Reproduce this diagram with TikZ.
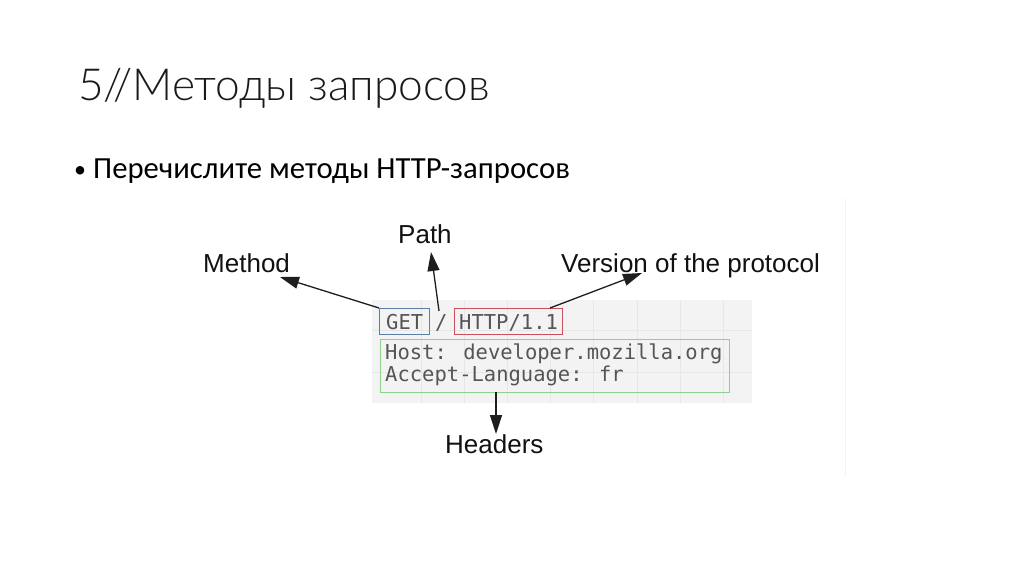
\documentclass[tikz,border=0pt]{standalone}
\usepackage{fontspec}
\setmainfont{Carlito}
\newfontfamily\titlefont{Lato}[UprightFont=* Light]
\newfontfamily\lblfont{Liberation Sans}
\newfontfamily\codefont{DejaVu Sans Mono}
\usetikzlibrary{arrows.meta}
\definecolor{titlecol}{HTML}{1A1A1A}
\definecolor{labelcol}{HTML}{111111}
\definecolor{codecol}{HTML}{555555}
\definecolor{panelbg}{HTML}{F3F3F3}
\definecolor{gridcol}{HTML}{E7E7E7}
\definecolor{edgecol}{HTML}{F3F3F3}
\definecolor{boxblue}{HTML}{5B7FA6}
\definecolor{boxred}{HTML}{C9505C}
\definecolor{boxgreen}{HTML}{8ED08E}
\definecolor{arrowcol}{HTML}{1E1E1E}
\tikzset{
  titletext/.style={anchor=base west, inner sep=0pt, text=titlecol, font=\titlefont\fontsize{44.2}{52}\selectfont},
  bodytext/.style={anchor=base west, inner sep=0pt, text=black, font=\fontsize{30.7}{36}\selectfont},
  bullettext/.style={anchor=base west, inner sep=0pt, text=black, font=\fontsize{24}{28}\selectfont},
  lbl/.style={anchor=base west, inner sep=0pt, text=labelcol, font=\lblfont\fontsize{26}{30}\selectfont},
  code/.style={anchor=base west, inner sep=0pt, text=codecol, font=\codefont\fontsize{20.5}{24}\selectfont},
  codebox/.style={anchor=north west, inner sep=0pt, line width=1.2pt},
  arr/.style={draw=arrowcol, line width=1.3pt, -{Triangle[length=19pt,width=12pt]}}
}
\begin{document}
\begin{tikzpicture}[x=1pt,y=-1pt]
\useasboundingbox (0,0) rectangle (1024,574);
\fill[white] (0,0) rectangle (1024,574);

% title and bullet
\node[titletext] (title) at (78,100) {5//Методы запросов};
\node[bullettext] (dot) at (74,177) {•};
\node[bodytext] (task) at (93,178) {Перечислите методы HTTP-запросов};

% faint edge of pasted picture
\draw[edgecol, line width=1pt] (845,198) -- (845,476);

% code panel
\fill[panelbg] (372,300) rectangle (752,403);
\foreach \gx in {421,464,507,550,593,637,680,723}
  \draw[gridcol, line width=0.8pt] (\gx,300) -- (\gx,403);
\foreach \gy in {330,372}
  \draw[gridcol, line width=0.8pt] (372,\gy) -- (752,\gy);

\node[codebox, draw=boxblue, minimum width=50pt, minimum height=26pt] (get) at (379,308) {};
\node[codebox, draw=boxred, minimum width=108pt, minimum height=26pt] (http) at (454,308) {};
\node[codebox, draw=boxgreen, minimum width=349pt, minimum height=53pt] (hdr) at (380,339) {};

\node[code] (gettxt) at (386,329) {GET};
\node[code] (slash) at (435,329) {/};
\node[code] (httptxt) at (459,329) {HTTP/1.1};
\node[code] (host) at (385,359) {Host: developer.mozilla.org};
\node[code] (accept) at (385,381) {Accept-Language: fr};

% labels
\node[lbl] (method) at (203,272) {Method};
\node[lbl] (path) at (398,243) {Path};
\node[lbl] (version) at (561,272) {Version of the protocol};
\node[lbl] (headers) at (445,453) {Headers};

% arrow tips
\coordinate (methodtip) at (280,277);
\coordinate (pathtip) at (431,252);
\coordinate (versiontip) at (642,273);
\coordinate (headerstip) at (496,434);
\coordinate (slashtop) at (439,311);
\coordinate (httpstart) at (550,308);
\coordinate (hdrstart) at (496,392);

\draw[arr] (get.north west) -- (methodtip);
\draw[arr] (slashtop) -- (pathtip);
\draw[arr] (httpstart) -- (versiontip);
\draw[arr] (hdrstart) -- (headerstip);
\end{tikzpicture}
\end{document}
